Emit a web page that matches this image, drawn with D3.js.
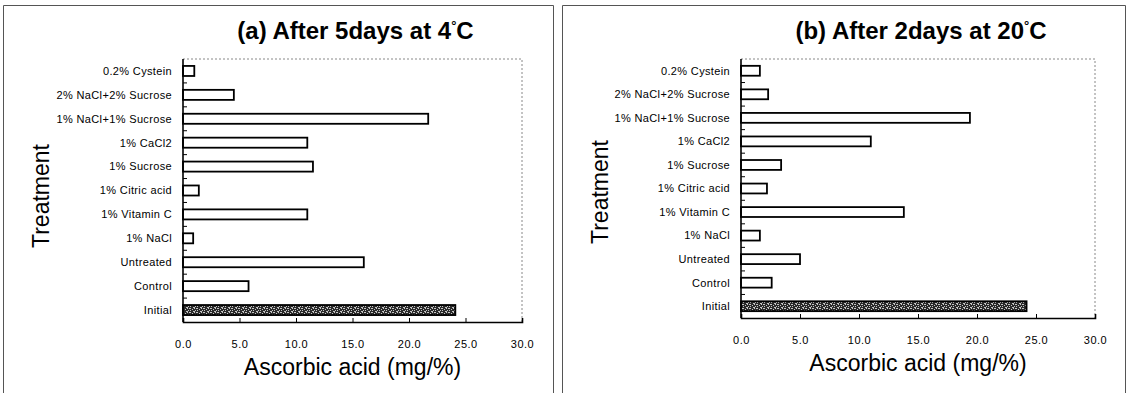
<!DOCTYPE html>
<html>
  <head>
    <meta charset="UTF-8">
    <script src="https://d3js.org/d3.v7.min.js"></script>
    <style type="text/css">
    body {
      margin: 0;
      background: #fff;
      font-family: 'Liberation Sans', Arial, sans-serif;
    }
    </style>
  </head>
  <body>
  </body>
  <script>
    // treatments, top to bottom as drawn
    var treatments = ["0.2% Cystein", "2% NaCl+2% Sucrose", "1% NaCl+1% Sucrose", "1% CaCl2",
      "1% Sucrose", "1% Citric acid", "1% Vitamin C", "1% NaCl", "Untreated", "Control", "Initial"];
    // ascorbic acid (mg/%)
    var after5days4C = [1.0, 4.5, 21.7, 11.0, 11.5, 1.4, 11.0, 0.9, 16.0, 5.8, 24.1];
    var after2days20C = [1.6, 2.3, 19.4, 11.0, 3.4, 2.2, 13.8, 1.6, 5.0, 2.6, 24.2];
    var xTicks = [0, 5, 10, 15, 20, 25, 30];

    var svg = d3.select("body").append("svg")
      .attr("width", 1129)
      .attr("height", 393);

    // speckled fill for the "Initial" bar
    var pat = svg.append("defs").append("pattern")
      .attr("id", "speckle")
      .attr("patternUnits", "userSpaceOnUse")
      .attr("width", 7)
      .attr("height", 4);
    pat.append("rect").attr("width", 7).attr("height", 4).attr("fill", "#2a2a2a");
    [[0, 0, 2], [3, 1, 1], [5, 0, 1], [1, 2, 1], [4, 3, 2], [6, 2, 1]].forEach(function(p) {
      pat.append("rect").attr("x", p[0]).attr("y", p[1]).attr("width", p[2]).attr("height", 1)
        .attr("fill", "#c4c4c4");
    });

    function drawPanel(conf) {
      var g = svg.append("g");

      // panel border
      g.append("path")
        .attr("d", "M" + conf.box[0] + ",400V" + conf.box[1] + "H" + conf.box[2] + "V400")
        .attr("fill", "none")
        .attr("stroke", "#555")
        .attr("stroke-width", 1);

      var p = conf.plot; // left, top, right, bottom
      var x = d3.scaleLinear().domain([0, 30]).range([p.left, p.right]);
      var y = d3.scaleBand().domain(treatments).range([p.top, p.bottom])
        .paddingInner(0.58).paddingOuter(0.29);
      var step = y.step();

      // dotted top and right frame
      g.append("path")
        .attr("d", "M" + p.left + "," + p.top + "H" + p.right + "V" + p.bottom)
        .attr("fill", "none")
        .attr("stroke", "#888")
        .attr("stroke-width", 1)
        .attr("stroke-dasharray", "2,2");

      // bars
      g.selectAll("rect.bar")
        .data(conf.values)
        .enter().append("rect")
          .attr("class", "bar")
          .attr("x", x(0))
          .attr("y", function(d, i) { return y(treatments[i]); })
          .attr("width", function(d) { return x(d) - x(0); })
          .attr("height", y.bandwidth())
          .attr("fill", function(d, i) { return treatments[i] == "Initial" ? "url(#speckle)" : "#fff"; })
          .attr("stroke", "#000")
          .attr("stroke-width", 1.8);

      // category labels
      g.selectAll("text.cat")
        .data(treatments)
        .enter().append("text")
          .attr("class", "cat")
          .attr("x", p.left - 11)
          .attr("y", function(d) { return y(d) + y.bandwidth() / 2; })
          .attr("dy", "0.35em")
          .attr("text-anchor", "end")
          .style("font-size", "11px")
          .style("letter-spacing", "0.35px")
          .text(function(d) { return d; });

      // y axis line + boundary ticks
      g.append("line")
        .attr("x1", p.left).attr("x2", p.left)
        .attr("y1", p.top).attr("y2", p.bottom)
        .attr("stroke", "#000").attr("stroke-width", 1.6);
      g.selectAll("line.ytick")
        .data(treatments.slice(1))
        .enter().append("line")
          .attr("class", "ytick")
          .attr("x1", p.left).attr("x2", p.left + 4)
          .attr("y1", function(d) { return y(d) + y.bandwidth() / 2 - step / 2; })
          .attr("y2", function(d) { return y(d) + y.bandwidth() / 2 - step / 2; })
          .attr("stroke", "#000").attr("stroke-width", 1);

      // x axis
      var ax = g.append("g")
        .attr("transform", "translate(0," + p.bottom + ")")
        .call(d3.axisBottom(x).tickValues(xTicks).tickSize(-4).tickPadding(18)
          .tickFormat(d3.format(".1f")));
      ax.select(".domain").attr("stroke", "#000").attr("stroke-width", 1.6);
      ax.selectAll(".tick line").attr("stroke", "#000");
      ax.selectAll(".tick text")
        .attr("fill", "#000")
        .style("font-size", "11px")
        .style("letter-spacing", "0.5px")
        .style("font-family", "'Liberation Sans', Arial, sans-serif");

      // axis titles
      g.append("text")
        .attr("x", (p.left + p.right) / 2)
        .attr("y", p.bottom + 53)
        .attr("text-anchor", "middle")
        .style("font-size", "23px")
        .text("Ascorbic acid (mg/%)");

      g.append("text")
        .attr("transform", "translate(" + (conf.box[0] + 45) + "," + conf.treatY + ") rotate(-90)")
        .attr("text-anchor", "middle")
        .style("font-size", "23px")
        .text("Treatment");

      // title
      var t = g.append("text")
        .attr("x", (p.left + p.right) / 2 + 3)
        .attr("y", 39)
        .attr("text-anchor", "middle")
        .style("font-size", "24px")
        .style("font-weight", "bold")
        .text(conf.title);
      t.append("tspan").attr("dy", -9).style("font-size", "13px").text("°");
      t.append("tspan").attr("dy", 9).text("C");
    }

    drawPanel({
      title: "(a) After 5days at 4",
      values: after5days4C,
      box: [3.5, 5.5, 553.5],
      plot: {left: 183, top: 59, right: 522, bottom: 322},
      treatY: 196
    });
    drawPanel({
      title: "(b) After 2days at 20",
      values: after2days20C,
      box: [562.5, 5.5, 1125.5],
      plot: {left: 741, top: 59, right: 1095, bottom: 318},
      treatY: 192
    });
  </script>
</html>
